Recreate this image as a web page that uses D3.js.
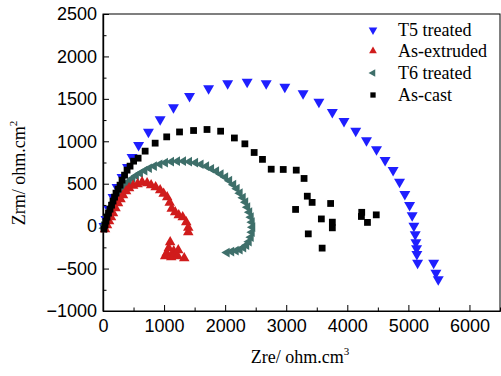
<!DOCTYPE html>
<html>
<head>
<meta charset="utf-8">
<script src="https://cdn.jsdelivr.net/npm/d3@7"></script>
<style>
  html, body { margin: 0; padding: 0; background: #fff; }
  svg { display: block; }
</style>
</head>
<body>
<svg id="chart" width="501" height="376"></svg>
<script>
// ---- Data (Zre, Zrm) ----
const t5Treated = [
  [16,0],[49,82],[99,200],[164,342],[230,459],[312,577],[402,695],[476,813],[583,954],
  [744,1111],[936,1257],[1154,1398],[1417,1531],[1729,1622],[2041,1681],[2360,1700],
  [2672,1681],[2977,1641],[3276,1563],[3535,1464],[3755,1343],[3946,1237],[4138,1123],
  [4314,1010],[4478,904],[4619,778],[4750,660],[4855,522],[4942,377],[5020,247],
  [5062,126],[5090,4],[5112,-98],[5123,-192],[5134,-263],[5139,-330],[5151,-432],
  [5414,-432],[5451,-550],[5489,-628]
];
const asExtruded = [
  [33,-35],[66,12],[99,59],[131,106],[164,153],[205,212],[246,271],[287,318],[328,365],
  [378,412],[427,448],[493,477],[566,495],[640,518],[722,507],[788,483],[862,459],
  [936,424],[993,383],[1051,342],[1092,277],[1125,206],[1182,165],[1240,130],[1305,106],
  [1363,47],[1396,-18],[1396,-71],[1100,-188],[1076,-259],[1043,-318],[1018,-353],
  [1117,-365],[1158,-295],[1166,-336],[1223,-353],[1232,-283],[1330,-377]
];
const t6Treated = [
  [16,-24],[33,12],[49,47],[66,82],[82,118],[107,153],[131,200],[156,236],[181,283],
  [213,330],[246,377],[287,424],[328,459],[378,495],[427,530],[484,565],[542,595],
  [608,624],[681,654],[755,683],[837,707],[928,730],[1018,748],[1117,760],[1215,766],
  [1314,766],[1412,760],[1511,748],[1601,730],[1691,707],[1773,677],[1855,648],
  [1929,613],[2003,577],[2069,536],[2135,489],[2192,442],[2241,389],[2291,336],
  [2332,283],[2364,224],[2397,165],[2422,106],[2438,47],[2447,-12],[2438,-71],
  [2422,-130],[2389,-183],[2348,-224],[2299,-253],[2241,-277],[2176,-289],[2102,-300],
  [2028,-312]
];
const asCast = [
  [16,-35],[33,12],[49,59],[66,106],[90,153],[115,200],[140,247],[164,295],[189,342],
  [213,389],[246,436],[279,483],[312,542],[353,601],[394,660],[443,707],[501,766],
  [575,801],[690,884],[854,978],[1043,1052],[1253,1110],[1483,1127],[1703,1139],
  [1926,1119],[2151,1039],[2323,970],[2475,868],[2611,787],[2754,671],[2951,668],
  [3164,660],[3292,562],[3345,353],[3424,280],[3727,267],[3153,197],[3575,85],
  [3755,47],[3755,-20],[4236,163],[4231,114],[4330,44],[4474,133],[3361,-91],[3588,-259]
];

const xTicks = [0,1000,2000,3000,4000,5000,6000];
const yTicks = [-1000,-500,0,500,1000,1500,2000,2500];
const xMinor = [500,1500,2500,3500,4500,5500,6500];
const yMinor = [-750,-250,250,750,1250,1750,2250];

const seriesNames = ["T5 treated","As-extruded","T6 treated","As-cast"];
const seriesColors = ["#1f1fff","#d01c1c","#3e6f6a","#000000"];

// ---- Layout ----
const svg = d3.select("#chart");
const pLeft = 103, pRight = 500, pTop = 14, pBottom = 311;
const x = d3.scaleLinear().domain([0,6500]).range([pLeft,pRight]);
const y = d3.scaleLinear().domain([-1000,2500]).range([pBottom,pTop]);

const sansFont = "'Liberation Sans', Arial, sans-serif";
const serifFont = "'Liberation Serif', 'Times New Roman', serif";

// frame
svg.append("rect")
  .attr("x", pLeft).attr("y", pTop)
  .attr("width", pRight-pLeft).attr("height", pBottom-pTop)
  .attr("fill","none").attr("stroke","#000").attr("stroke-width",1);

// axes
const xAxis = svg.append("g").attr("transform",`translate(0,${pBottom})`)
  .call(d3.axisBottom(x).tickValues(xTicks).tickSizeInner(-6).tickSizeOuter(0).tickPadding(8).tickFormat(d3.format("d")));
const xAxisMinor = svg.append("g").attr("transform",`translate(0,${pBottom})`)
  .call(d3.axisBottom(x).tickValues(xMinor).tickSizeInner(-3.5).tickSizeOuter(0).tickFormat(""));
const yAxis = svg.append("g").attr("transform",`translate(${pLeft},0)`)
  .call(d3.axisLeft(y).tickValues(yTicks).tickSizeInner(-6).tickSizeOuter(0).tickPadding(6).tickFormat(d3.format("d")));
const yAxisMinor = svg.append("g").attr("transform",`translate(${pLeft},0)`)
  .call(d3.axisLeft(y).tickValues(yMinor).tickSizeInner(-3.5).tickSizeOuter(0).tickFormat(""));

[xAxis,xAxisMinor,yAxis,yAxisMinor].forEach(g=>{
  g.select(".domain").attr("stroke","#000").attr("stroke-width",1.2);
  g.selectAll(".tick line").attr("stroke","#000").attr("stroke-width",1);
  g.selectAll("text").attr("font-family",sansFont).attr("font-size","18px").attr("fill","#000");
});

// axis titles
const xt = svg.append("text")
  .attr("x", 300).attr("y", 363)
  .attr("text-anchor","middle")
  .attr("font-family", serifFont).attr("font-size","18px").attr("fill","#000");
xt.append("tspan").text("Zre/ ohm.cm");
xt.append("tspan").attr("font-size","11px").attr("dy",-8).text("3");

const yt = svg.append("text")
  .attr("transform","translate(25,173) rotate(-90)")
  .attr("text-anchor","middle")
  .attr("font-family", serifFont).attr("font-size","18px").attr("fill","#000");
yt.append("tspan").text("Zrm/ ohm.cm");
yt.append("tspan").attr("font-size","11px").attr("dy",-8).text("2");

// marker shapes
const triDown = d3.symbol().type(d3.symbolTriangle).size(52)();
const triUp = d3.symbol().type(d3.symbolTriangle).size(48)();
const triLeft = d3.symbol().type(d3.symbolTriangle).size(40)();
const sq = d3.symbol().type(d3.symbolSquare).size(46)();

const plot = svg.append("g");

function drawSeries(data, path, rot, color) {
  plot.append("g").selectAll("path").data(data).join("path")
    .attr("d", path)
    .attr("transform", d => `translate(${x(d[0])},${y(d[1])}) rotate(${rot})`)
    .attr("fill", color);
}
drawSeries(t5Treated, triDown, 180, seriesColors[0]);
drawSeries(t6Treated, triLeft, -90, seriesColors[2]);
drawSeries(asExtruded, triUp, 0, seriesColors[1]);
drawSeries(asCast, sq, 0, seriesColors[3]);

// legend
const legendRot = [180,0,-90,0];
const legendSize = [32,26,26,28];
const legendY = [30,51,73,95];
seriesNames.forEach((name,i)=>{
  svg.append("path")
    .attr("d", d3.symbol().type(i===3 ? d3.symbolSquare : d3.symbolTriangle).size(legendSize[i])())
    .attr("transform", `translate(373,${legendY[i]}) rotate(${legendRot[i]})`)
    .attr("fill", seriesColors[i]);
  svg.append("text")
    .attr("x", 398).attr("y", legendY[i]+6)
    .attr("font-family", serifFont).attr("font-size","18px").attr("fill","#000")
    .text(name);
});
</script>
</body>
</html>
